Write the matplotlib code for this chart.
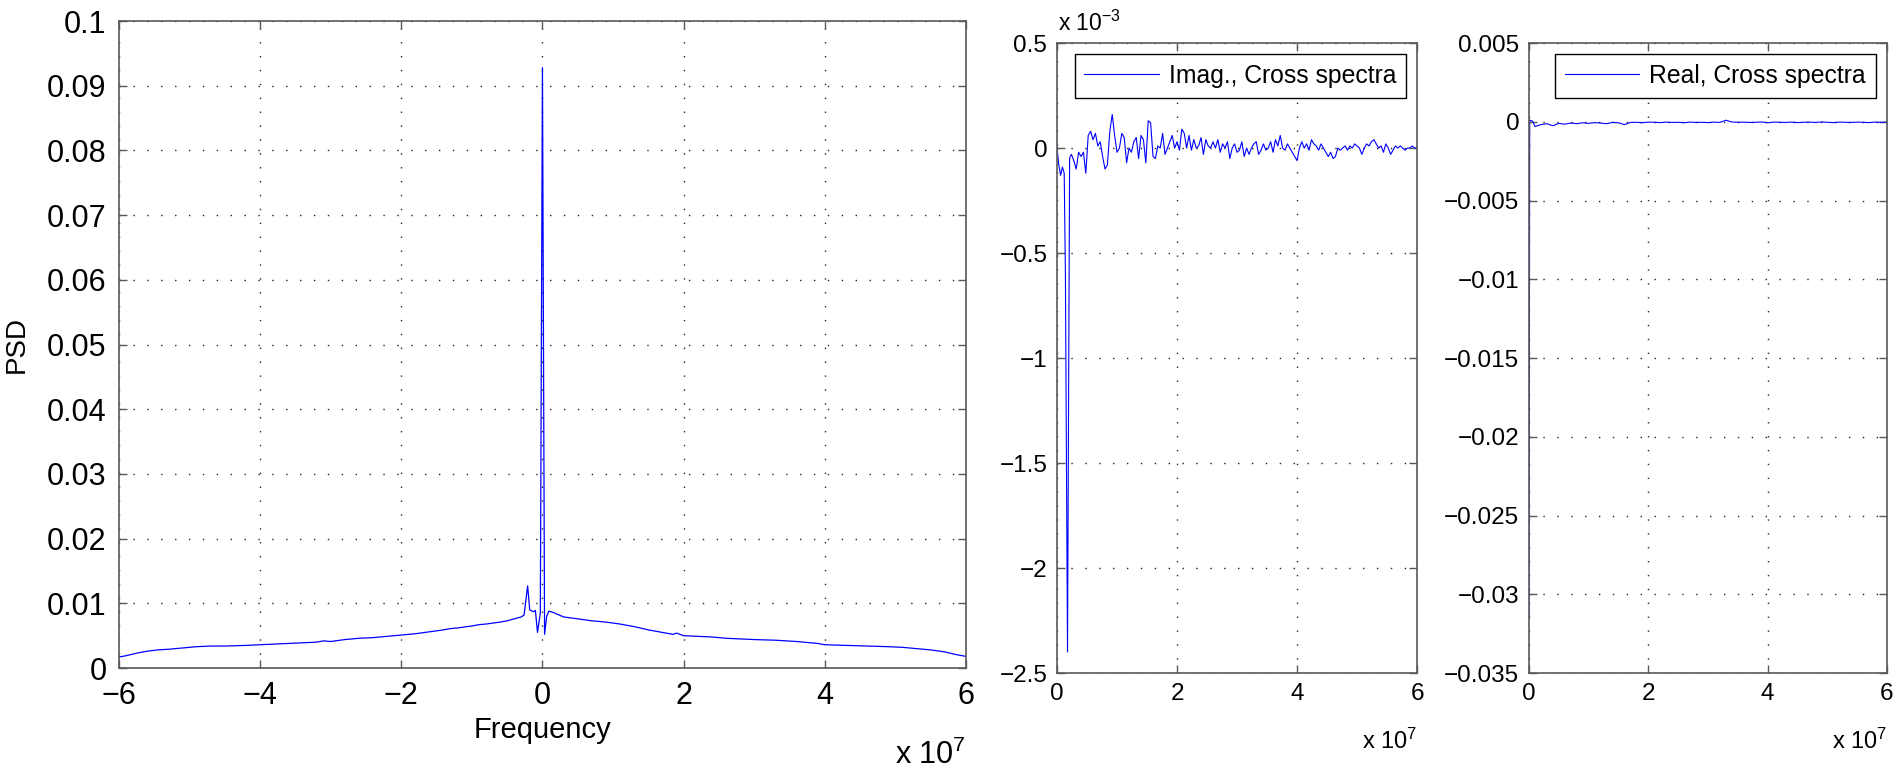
import matplotlib
matplotlib.use("Agg")
import matplotlib.pyplot as plt
import numpy as np
from matplotlib.ticker import FuncFormatter

plt.rcParams['font.family'] = ['Liberation Sans', 'DejaVu Sans']
plt.rcParams['mathtext.fontset'] = 'custom'
plt.rcParams['mathtext.rm'] = 'Liberation Sans'
plt.rcParams['mathtext.it'] = 'Liberation Sans'

# power spectral density, frequency in units of 1e7 Hz
psd_freq = [-6.0, -5.9, -5.75, -5.6, -5.45, -5.3, -5.1, -4.9, -4.7, -4.5,
            -4.2, -4.0, -3.8, -3.6, -3.4, -3.2, -3.1, -3.0, -2.8, -2.6,
            -2.4, -2.2, -2.0, -1.8, -1.6, -1.4, -1.3, -1.2, -1.0, -0.9,
            -0.8, -0.6, -0.5, -0.4, -0.3, -0.26, -0.21, -0.18, -0.13, -0.10,
            -0.07, -0.03, 0.0, 0.03, 0.06, 0.09, 0.15, 0.3, 0.5, 0.7,
            0.9, 1.1, 1.3, 1.5, 1.7, 1.85, 1.9, 2.0, 2.2, 2.4,
            2.6, 2.8, 3.0, 3.3, 3.6, 3.9, 4.0, 4.3, 4.6, 4.9,
            5.1, 5.3, 5.5, 5.7, 5.85, 6.0]
psd_vals = [0.0017, 0.0019, 0.0023, 0.0026, 0.0028, 0.0029, 0.0031, 0.0033, 0.0034, 0.0034,
            0.0035, 0.0036, 0.0037, 0.0038, 0.0039, 0.0040, 0.0042, 0.0041, 0.0044, 0.0046,
            0.0047, 0.0049, 0.0051, 0.0053, 0.0056, 0.0059, 0.0061, 0.0062, 0.0065, 0.0067,
            0.0068, 0.0071, 0.0073, 0.0076, 0.0079, 0.0082, 0.0127, 0.0090, 0.0087, 0.0089,
            0.0055, 0.0085, 0.0928, 0.0052, 0.0080, 0.0088, 0.0086, 0.0079, 0.0076, 0.0073,
            0.0071, 0.0068, 0.0064, 0.0059, 0.0055, 0.0052, 0.0054, 0.0050, 0.0049, 0.0048,
            0.0046, 0.0045, 0.0044, 0.0043, 0.0041, 0.0038, 0.0036, 0.0035, 0.0034, 0.0033,
            0.0032, 0.0030, 0.0028, 0.0025, 0.0021, 0.0018]

# imaginary part of the cross spectrum (values in 1e-3)
imag_head_freq = [0.0, 0.03, 0.06, 0.09, 0.12, 0.14, 0.175, 0.21, 0.22]
imag_head = [0.0, -0.08, -0.13, -0.09, -0.12, -0.60, -2.40, -0.05, -0.04]
# 0.24 .. 6.0 in steps of 0.04
imag_tail = [-0.03, -0.06, -0.10, -0.02, -0.04, -0.02, -0.12, 0.06, 0.08, 0.04,
             0.07, 0.01, 0.03, -0.04, -0.10, -0.08, 0.08, 0.16, 0.06, -0.02,
             0.00, 0.07, 0.05, -0.07, 0.00, -0.02, 0.03, 0.05, -0.05, 0.06,
             0.04, -0.07, 0.13, 0.12, -0.04, -0.05, 0.01, 0.00, 0.07, -0.03,
             0.00, 0.03, 0.06, 0.00, 0.03, -0.01, 0.09, 0.07, 0.00, 0.06,
             -0.01, 0.04, 0.00, 0.01, 0.05, -0.03, 0.04, 0.01, 0.00, 0.03,
             0.00, 0.04, -0.02, 0.02, 0.00, 0.03, -0.05, 0.00, 0.02, -0.02,
             -0.01, 0.03, -0.04, 0.00, -0.03, 0.00, 0.02, 0.03, -0.03, -0.01,
             0.02, -0.01, 0.00, 0.03, -0.02, 0.04, 0.01, 0.06, 0.00, -0.01,
             0.02, 0.00, -0.02, -0.04, -0.06, 0.00, 0.03, 0.00, 0.02, -0.01,
             0.04, 0.02, 0.01, -0.01, 0.02, 0.00, -0.02, -0.04, -0.02, -0.05,
             -0.04, 0.00, -0.01, 0.00, 0.01, -0.01, 0.01, 0.00, 0.02, 0.01,
             0.00, -0.03, 0.00, 0.02, 0.01, 0.03, 0.04, 0.02, 0.00, 0.01,
             -0.02, 0.02, 0.00, -0.03, -0.01, 0.01, 0.00, 0.01, 0.00, -0.01,
             0.00, 0.00, 0.01, 0.00, 0.00]

# real part of the cross spectrum
real_head_freq = [0.0, 0.012, 0.06]
real_head = [-0.0315, 0.0001, 0.00005]
# 0.1 .. 6.0 in steps of 0.1
real_tail = [-0.00030, -0.00018, -0.00012, -0.00025, -0.00010, -0.00015, -0.00008, -0.00012, -0.00006, -0.00010,
             -0.00005, -0.00008, -0.00012, -0.00004, -0.00006, -0.00018, -0.00004, -0.00003, -0.00006, -0.00002,
             -0.00003, -0.00005, -0.00002, -0.00004, -0.00003, -0.00006, -0.00002, -0.00004, -0.00003, -0.00005,
             -0.00002, -0.00004, 0.00010, -0.00001, -0.00003, -0.00002, -0.00004, -0.00003, -0.00001, -0.00006,
             -0.00002, -0.00003, -0.00004, -0.00002, -0.00005, -0.00003, -0.00002, -0.00004, -0.00001, -0.00003,
             -0.00005, -0.00002, -0.00003, -0.00004, -0.00002, -0.00003, -0.00005, -0.00002, -0.00003, -0.00002]

imag_freq = imag_head_freq + list(np.linspace(0.24, 6.0, len(imag_tail)))
imag_vals = imag_head + imag_tail
real_freq = real_head_freq + list(np.linspace(0.1, 6.0, len(real_tail)))
real_vals = real_head + real_tail

BLUE = '#0000ff'
W, H = 1897, 769


def num_label(v, pos):
    if abs(v) < 1e-12:
        return '0'
    return ('%g' % v).replace('-', '\u2212')


def style_axes(ax, fs, pad):
    ax.grid(True, color='0.15', linestyle=(0, (1, 9)), linewidth=1.0)
    ax.tick_params(direction='in', top=True, right=True, length=6, width=1,
                   color='0.35', labelcolor='black', labelsize=fs, pad=pad)
    for s in ax.spines.values():
        s.set_color('0.35')
        s.set_linewidth(1.2)
    ax.yaxis.set_major_formatter(FuncFormatter(num_label))
    ax.xaxis.set_major_formatter(FuncFormatter(num_label))


def px_text(x, y, s, fs, ha):
    # place text with its baseline at pixel (x, y) measured from the top-left
    fig.text(x / W, 1 - y / H, s, fontsize=fs, ha=ha, va='baseline')


fig = plt.figure(figsize=(W / 100, H / 100), dpi=100)

# PSD
ax1 = fig.add_axes([0.0627, 0.1313, 0.4465, 0.8413])
ax1.plot(psd_freq, psd_vals, color=BLUE, linewidth=0.9)
ax1.set_xlim(-6, 6)
ax1.set_ylim(0, 0.1)
ax1.set_xticks(np.arange(-6, 7, 2))
ax1.set_yticks(np.arange(0, 0.1001, 0.01))
style_axes(ax1, 22, 9)
ax1.set_xlabel('Frequency', fontsize=21, labelpad=4)
ax1.set_ylabel('PSD', fontsize=20, labelpad=12)
px_text(966, 764, 'x 10$^{7}$', 22, 'right')

# imaginary part
ax2 = fig.add_axes([0.5572, 0.1248, 0.1898, 0.8192])
ax2.plot(imag_freq, imag_vals, color=BLUE, linewidth=0.8,
         label='Imag., Cross spectra')
ax2.set_xlim(0, 6)
ax2.set_ylim(-2.5, 0.5)
ax2.set_xticks(np.arange(0, 7, 2))
ax2.set_yticks(np.arange(-2.5, 0.51, 0.5))
style_axes(ax2, 17.5, 7)
px_text(1058, 31, 'x 10$^{-3}$', 16.5, 'left')
px_text(1417, 749, 'x 10$^{7}$', 17, 'right')

# real part
ax3 = fig.add_axes([0.806, 0.1248, 0.1887, 0.8192])
ax3.plot(real_freq, real_vals, color=BLUE, linewidth=0.8,
         label='Real, Cross spectra')
ax3.set_xlim(0, 6)
ax3.set_ylim(-0.035, 0.005)
ax3.set_xticks(np.arange(0, 7, 2))
ax3.set_yticks(np.arange(-0.035, 0.0051, 0.005))
style_axes(ax3, 17.5, 7)
px_text(1887, 749, 'x 10$^{7}$', 17, 'right')

for ax in (ax2, ax3):
    leg = ax.legend(loc='upper right', fontsize=17.8, fancybox=False,
                    framealpha=1, edgecolor='black', handlelength=3.0,
                    borderpad=0.4, borderaxespad=0.45, handletextpad=0.4)
    leg.get_frame().set_linewidth(1.0)

fig.savefig('out.png', dpi=100)
